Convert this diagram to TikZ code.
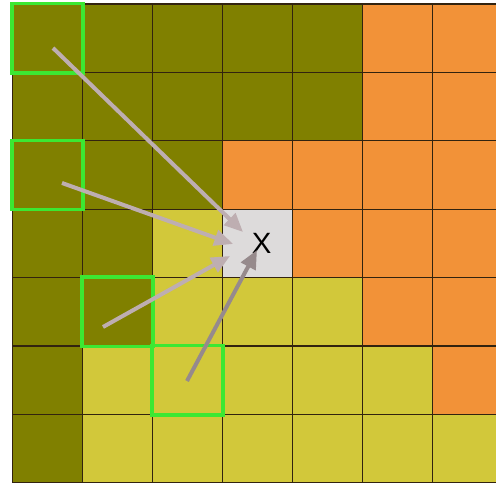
\documentclass[tikz,border=0pt]{standalone}
\usepackage{fontspec}
\newfontfamily\markfont{Liberation Sans}
\usetikzlibrary{arrows.meta,positioning,calc}
\definecolor{cello}{RGB}{128,128,0}
\definecolor{cellr}{RGB}{242,146,56}
\definecolor{celly}{RGB}{210,200,58}
\definecolor{cellg}{RGB}{221,219,219}
\definecolor{gridline}{RGB}{50,35,15}
\definecolor{pickgreen}{RGB}{60,232,50}
\definecolor{votegray}{RGB}{190,174,177}
\definecolor{votedark}{RGB}{150,138,140}

\begin{document}
\begin{tikzpicture}[
    x=0.75pt, y=-0.75pt,
    cell/.style={draw=gridline, line width=0.8pt, minimum width=52.5pt,
        minimum height=51.3pt, inner sep=0pt, anchor=north west},
    pick/.style={draw=pickgreen, line width=2.4pt},
    vote/.style={votegray, line width=3pt,
        -{Triangle[length=14pt,width=12pt]}},
    lbl/.style={font=\markfont\fontsize{22}{22}\selectfont}
]
\useasboundingbox (0,0) rectangle (496,484);
\clip (0,0) rectangle (496,484);

% Cells, row by row
\foreach \row/\cols in {0/{o,o,o,o,o,r,r},1/{o,o,o,o,o,r,r},
    2/{o,o,o,r,r,r,r},3/{o,o,y,g,r,r,r},4/{o,o,y,y,y,r,r},
    5/{o,y,y,y,y,y,r},6/{o,y,y,y,y,y,y}}{
  \foreach \k [count=\i from 0] in \cols
    \node[cell, fill=cell\k] (c\row\i) at (12+70*\i, 3.5+68.4*\row) {};
}

% Neighbours
\foreach \n in {c00,c20,c41,c52}
  \draw[pick] (\n.north west) rectangle (\n.south east);

\node[lbl] (xmark) at ($(c33.center)+(4,0)$) {X};

% Votes
\coordinate (s1) at (53,48);
\coordinate (s2) at (62,183);
\coordinate (s3) at (103,327);
\coordinate (s4) at (187,381);
\coordinate (e1) at (243,232);
\coordinate (e2) at (233,244);
\coordinate (e3) at (230,256);
\coordinate (e4) at (257,250);
\draw[vote] (s1) -- (e1);
\draw[vote] (s2) -- (e2);
\draw[vote] (s3) -- (e3);
\draw[vote, votedark] (s4) -- (e4);
\end{tikzpicture}
\end{document}
